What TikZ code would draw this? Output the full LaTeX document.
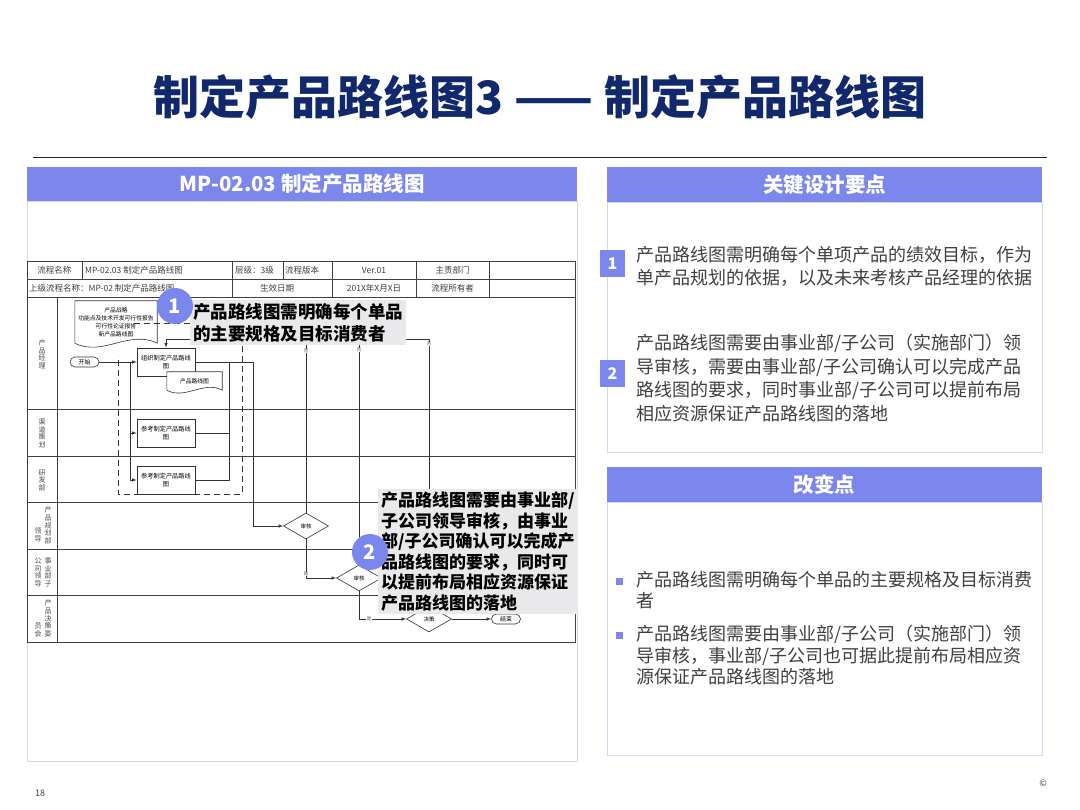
\documentclass[tikz,border=0pt]{standalone}
\usepackage{fontspec}
\setmainfont{Noto Sans CJK SC}
\usepackage{tikz}
\usetikzlibrary{shapes.geometric, arrows}

\definecolor{hdrblue}{RGB}{123,135,236}
\definecolor{navy}{RGB}{18,40,108}
\definecolor{notegray}{RGB}{233,233,236}
\definecolor{txtgray}{RGB}{64,64,64}
\definecolor{panelline}{RGB}{212,215,240}
\definecolor{framegray}{RGB}{215,215,215}

\begin{document}
\begin{tikzpicture}[x=1pt, y=-1pt, >=latex,
    hdr/.style={fill=hdrblue, text=white, font=\bfseries\fontsize{20.5}{20.5}\selectfont, anchor=north west, inner sep=0pt},
    cell/.style={font=\fontsize{8.5}{9}\selectfont, text=black!75, inner sep=1pt},
    lanetxt/.style={font=\fontsize{7}{7.6}\selectfont, text=black!70, align=center, text width=7pt, inner sep=0pt, anchor=south},
    flow/.style={draw=black!80, line width=0.6pt},
    task/.style={draw=black!80, fill=white, line width=0.6pt, font=\fontsize{6.2}{7.5}\selectfont, align=center, text width=54pt, minimum width=58pt, minimum height=28pt, inner sep=1pt},
    docnode/.style={fill=white, font=\fontsize{5.8}{8}\selectfont, align=center, inner sep=0pt},
    decide/.style={diamond, draw=black!80, fill=white, line width=0.6pt, font=\fontsize{5.5}{6}\selectfont, minimum width=45pt, minimum height=26pt, inner sep=0pt},
    term/.style={draw=black!80, fill=white, line width=0.6pt, rounded corners=5pt, font=\fontsize{6}{6}\selectfont, minimum width=29pt, minimum height=10pt, inner sep=0pt},
    yesno/.style={font=\fontsize{4.5}{5}\selectfont, text=black!70, fill=white, inner sep=0.4pt},
    note/.style={fill=notegray, align=left, inner xsep=3pt, inner ysep=3pt, anchor=north west},
    badge/.style={circle, fill=hdrblue, text=white, font=\bfseries\fontsize{20}{20}\selectfont, minimum size=36pt, inner sep=0pt},
    numbox/.style={fill=hdrblue, text=white, font=\bfseries\fontsize{16}{16}\selectfont, minimum width=25pt, minimum height=27pt, inner sep=0pt},
    bodytxt/.style={text=txtgray, align=left, anchor=north west, inner sep=0pt},
    sqbullet/.style={fill=hdrblue, minimum size=7pt, inner sep=0pt}
  ]
    \fill[white] (0,0) rectangle (1080,810);
    \useasboundingbox (0,0) rectangle (1080,810);

    % title and rule
    \node[font=\bfseries\fontsize{46}{46}\selectfont, text=navy] (title) at (540,97) {制定产品路线图3 —— 制定产品路线图};
    \draw[black!85, line width=0.8pt] (33,157) -- (1047,157);

    % left panel
    \draw[framegray, line width=0.8pt] (27,201) rectangle (577,761);
    \node[hdr, minimum width=550pt, minimum height=34pt] (lefthdr) at (27,167) {MP-02.03 制定产品路线图};

    % process sheet head rows
    \draw[black!75, line width=0.6pt] (27,261) rectangle (575,642);
    \foreach \y in {279,297}
    \draw[black!75, line width=0.6pt] (27,\y) -- (575,\y);
    \foreach \x in {82,283}
    \draw[black!75, line width=0.6pt] (\x,261) -- (\x,279);
    \foreach \x in {232,332,416,489}
    \draw[black!75, line width=0.6pt] (\x,261) -- (\x,297);
    \node[cell] (h1) at (54.5,270) {流程名称};
    \node[cell, anchor=west] (h2) at (84,270) {MP-02.03 制定产品路线图};
    \node[cell, anchor=west] (h3) at (234,270) {层级：3级};
    \node[cell, anchor=west] (h4) at (284,270) {流程版本};
    \node[cell] (h5) at (374,270) {Ver.01};
    \node[cell] (h6) at (452.5,270) {主责部门};
    \node[cell, anchor=west] (h7) at (28,288) {上级流程名称：MP-02 制定产品路线图};
    \node[cell] (h8) at (277,288) {生效日期};
    \node[cell] (h9) at (374,288) {201X年X月X日};
    \node[cell] (h10) at (452.5,288) {流程所有者};

    % swimlanes
    \draw[black!75, line width=0.6pt] (57,297) -- (57,642);
    \foreach \y in {409,456,502,549,595}
    \draw[black!75, line width=0.6pt] (27,\y) -- (575,\y);
    \node[lanetxt] (ln1) at (42,369) {产\\品\\经\\理};
    \node[lanetxt] (ln2) at (42,448) {渠\\道\\策\\划};
    \node[lanetxt] (ln3) at (42,491) {研\\发\\部};
    \node[lanetxt] (ln4a) at (48,544) {产\\品\\规\\划\\部};
    \node[lanetxt] (ln4b) at (38,542) {领\\导};
    \node[lanetxt] (ln5a) at (48,587) {事\\业\\部\\子};
    \node[lanetxt] (ln5b) at (38,587) {公\\司\\领\\导};
    \node[lanetxt] (ln6a) at (48,637) {产\\品\\决\\策\\委};
    \node[lanetxt] (ln6b) at (38,637) {员\\会};

    % flow nodes
    \node[docnode, minimum width=82pt, minimum height=42pt] (strat) at (116,322) {产品战略\\功能点及技术开发可行性报告\\可行性论证报告\\新产品路线图};
    \draw[flow] (strat.north west) -- (strat.north east) -- (strat.south east) .. controls +(-28,-14) and +(28,14) .. (strat.south west) -- cycle;
    \node[term] (start) at (84.5,362) {开始};
    \node[task] (plan) at (166,362) {组织制定产品路线\\图};
    \node[task] (ref1) at (166,433) {参考制定产品路线\\图};
    \node[task] (ref2) at (166,480) {参考制定产品路线\\图};
    \node[docnode, minimum width=55pt, minimum height=18pt] (map) at (194.5,381) {产品路线图};
    \draw[flow] (map.north west) -- (map.north east) -- (map.south east) .. controls +(-18,-10) and +(18,10) .. (map.south west) -- cycle;
    \node[decide] (chk1) at (306,526) {审核};
    \node[decide] (chk2) at (359,578) {审核};
    \node[decide] (dec) at (429,619) {决策};
    \node[term] (stop) at (506,619) {结束};

    \coordinate (split) at (130,362);
    \coordinate (bus) at (229,362);
    \coordinate (turn) at (253,362);
    \coordinate (back) at (166,339);

    \draw[flow, ->] (start.east) -- (plan.west);
    \draw[flow, ->] (split) |- (ref1.west);
    \draw[flow, ->] (split) |- (ref2.west);
    \draw[flow] (ref1.east) -- (ref1.east -| bus);
    \draw[flow] (ref2.east) -| (bus);
    \draw[flow, ->] (plan.east) -- (turn) |- (chk1.west);
    \draw[flow, ->] (chk1.south) |- (chk2.west);
    \draw[flow, ->] (chk2.south) |- (dec.west);
    \draw[flow, ->] (dec.east) -- (stop.west);
    % the no-branches run back up to the plan box
    \draw[flow, ->] (chk1.north) |- (back) -- (plan.north);
    \draw[flow] (chk2.north) |- (back);
    \draw[flow] (dec.north) |- (back);
    \node[yesno] (no1) at (306,351) {否};
    \node[yesno] (no2) at (359,350) {否};
    \node[yesno] (no3) at (429,344) {否};
    \node[yesno] (yes1) at (306,574) {是};
    \node[yesno] (yes2) at (369,619) {是};

    \draw[black!80, line width=1pt, dash pattern=on 6pt off 4pt] (134,324) -| (242,494) -| (118,356);

    % callouts
    \node[note, font=\bfseries\fontsize{17.5}{22}\selectfont] (note1) at (190,300) {产品路线图需明确每个单品\\的主要规格及目标消费者};
    \node[badge] (b1) at (175,306) {1};
    \node[note, font=\bfseries\fontsize{17}{20.5}\selectfont] (note2) at (378,489) {产品路线图需要由事业部/\\子公司领导审核，由事业\\部/子公司确认可以完成产\\品路线图的要求，同时可\\以提前布局相应资源保证\\产品路线图的落地};
    \node[badge] (b2) at (370,552) {2};

    % right panels
    \draw[panelline, line width=0.8pt] (607,202) rectangle (1042,452);
    \node[hdr, minimum width=435pt, minimum height=35pt] (keyhdr) at (607,167) {关键设计要点};
    \node[numbox] (k1) at (612.5,263.5) {1};
    \node[bodytxt, font=\fontsize{18}{23.5}\selectfont] (k1txt) at (636,246) {产品路线图需明确每个单项产品的绩效目标，作为\\单产品规划的依据，以及未来考核产品经理的依据};
    \node[numbox] (k2) at (612.5,373.5) {2};
    \node[bodytxt, font=\fontsize{18}{23.5}\selectfont] (k2txt) at (636,334) {产品路线图需要由事业部/子公司（实施部门）领\\导审核，需要由事业部/子公司确认可以完成产品\\路线图的要求，同时事业部/子公司可以提前布局\\相应资源保证产品路线图的落地};

    \draw[panelline, line width=0.8pt] (607,502) rectangle (1042,755);
    \node[hdr, minimum width=435pt, minimum height=35pt] (chghdr) at (607,467) {改变点};
    \node[sqbullet] (c1) at (619,581) {};
    \node[bodytxt, font=\fontsize{18}{21.5}\selectfont] (c1txt) at (636,571) {产品路线图需明确每个单品的主要规格及目标消费\\者};
    \node[sqbullet] (c2) at (619,635) {};
    \node[bodytxt, font=\fontsize{18}{21.5}\selectfont] (c2txt) at (636,625) {产品路线图需要由事业部/子公司（实施部门）领\\导审核，事业部/子公司也可据此提前布局相应资\\源保证产品路线图的落地};

    % footer
    \node[font=\fontsize{9}{9}\selectfont, text=black!75] (pgno) at (40,793) {18};
    \node[font=\fontsize{9}{9}\selectfont, text=black!75] (copy) at (1043,783) {©};
\end{tikzpicture}
\end{document}
